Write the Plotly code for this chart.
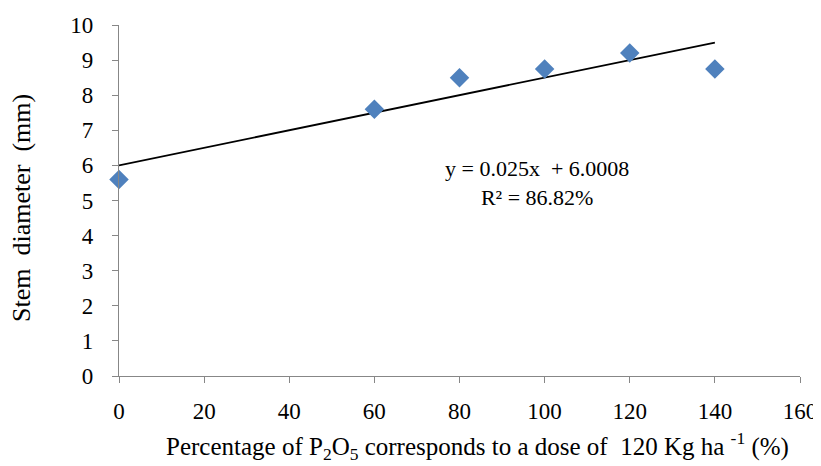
import plotly.graph_objects as go

# Data
dose_pct = [0, 60, 80, 100, 120, 140]
stem_diameter = [5.6, 7.6, 8.5, 8.75, 9.2, 8.75]
slope = 0.025
intercept = 6.0008
r2_text = "86.82%"
x_ticks = [0, 20, 40, 60, 80, 100, 120, 140, 160]
y_ticks = list(range(0, 11))

trend_x = [min(dose_pct), max(dose_pct)]
trend_y = [slope * v + intercept for v in trend_x]

FONT = "Liberation Serif"
AXC = "#878787"

# page has an 8px body margin: figure occupies (8..821, 8..466)
OFF = 8
W, H = 821 - OFF, 466 - OFF
# desired plot area in window pixels: x 119..800, y 25..376
L, T = 119 - OFF, 25 - OFF
R, B = 821 - 800, 466 - 376
pw, ph = W - L - R, H - T - B


def px_to_paper(xw, yw):
    return (xw - OFF - L) / pw, (H - (yw - OFF) - B) / ph


fig = go.Figure()
fig.add_trace(go.Scatter(
    x=trend_x, y=trend_y, mode="lines",
    line=dict(color="black", width=1.8), showlegend=False, hoverinfo="skip"))
fig.add_trace(go.Scatter(
    x=dose_pct, y=stem_diameter, mode="markers",
    marker=dict(symbol="diamond", size=15, color="#4F81BD"),
    showlegend=False, cliponaxis=False))

ax, ay = px_to_paper(537, 183)
fig.add_annotation(
    x=ax, y=ay, xref="paper", yref="paper", showarrow=False,
    xanchor="center", yanchor="middle",
    text=f"y = {slope}x &nbsp;+ {intercept}<br>R² = {r2_text}",
    font=dict(family=FONT, size=22, color="black"), align="center")

tx, ty = px_to_paper(477, 446)
fig.add_annotation(
    x=tx, y=ty, xref="paper", yref="paper", showarrow=False,
    xanchor="center", yanchor="middle",
    text="Percentage of P<sub>2</sub>O<sub>5</sub> corresponds to a dose of &nbsp;120 Kg ha <sup>-1</sup> (%)",
    font=dict(family=FONT, size=25, color="black"))
yx, yy = px_to_paper(22, 208)
fig.add_annotation(
    x=yx, y=yy, xref="paper", yref="paper", showarrow=False, textangle=-90,
    xanchor="center", yanchor="middle",
    text="Stem &nbsp;diameter &nbsp;(mm)",
    font=dict(family=FONT, size=26, color="black"))

fig.update_layout(
    width=W, height=H,
    margin=dict(l=L, r=R, t=T, b=B),
    paper_bgcolor="white", plot_bgcolor="white",
    font=dict(family=FONT, color="black"),
    xaxis=dict(
        range=[0, 160], tickvals=x_ticks, showgrid=False, zeroline=False,
        showline=True, linecolor=AXC, linewidth=1.2, automargin=False,
        ticks="outside", ticklen=6, tickcolor=AXC, tickwidth=1.2,
        tickfont=dict(family=FONT, size=23, color="black"),
        ticklabelstandoff=8,
    ),
    yaxis=dict(
        range=[0, 10], tickvals=y_ticks, showgrid=False, zeroline=False,
        showline=True, linecolor=AXC, linewidth=1.2, automargin=False,
        ticks="outside", ticklen=6, tickcolor=AXC, tickwidth=1.2,
        tickfont=dict(family=FONT, size=23, color="black"),
        ticklabelstandoff=14,
    ),
)

fig.write_html("out.html")
